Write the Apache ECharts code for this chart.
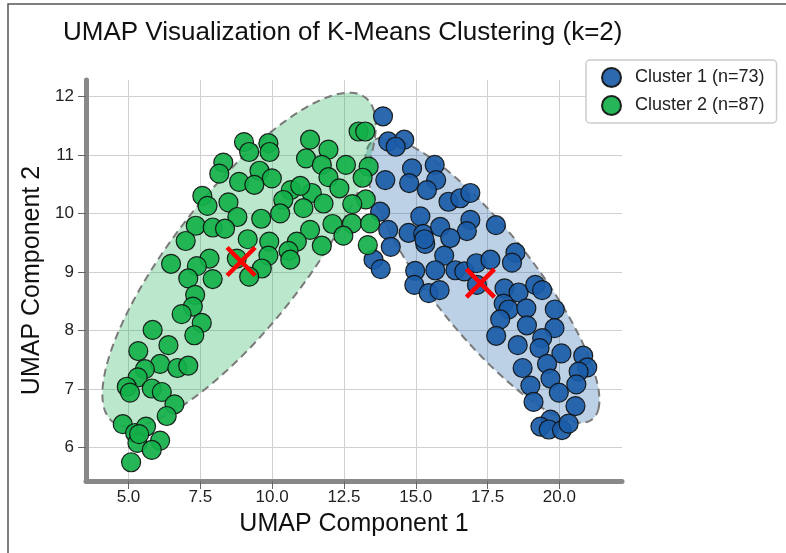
<!DOCTYPE html>
<html>
<head>
<meta charset="utf-8">
<script src="https://cdn.jsdelivr.net/npm/echarts@6/dist/echarts.min.js"></script>
<style>
  html, body { margin: 0; padding: 0; background: #fff; }
  #chart { width: 786px; height: 553px; }
</style>
</head>
<body>
<div id="chart"></div>
<script>
// UMAP embedding, cluster 1 (73 samples)
const cluster1X = [13.86,14.04,14.60,14.30,14.87,15.66,15.71,14.77,15.39,13.94,16.14,16.55,16.90,13.76,15.16,16.90,16.78,17.79,14.04,14.75,15.26,15.85,16.20,15.33,14.13,15.99,13.53,13.78,14.98,15.68,16.38,16.69,17.11,17.60,18.47,18.35,14.95,15.45,15.83,17.13,18.09,18.58,19.16,19.40,19.84,18.06,18.23,17.94,18.85,17.80,18.87,19.83,19.40,19.31,18.55,20.07,20.83,20.97,20.67,19.57,18.72,19.69,20.59,18.99,19.98,19.10,20.56,19.69,19.34,19.63,20.09,20.32,15.30];
const cluster1Y = [11.66,11.23,11.26,11.14,10.77,10.83,10.57,10.52,10.40,10.57,10.20,10.26,10.35,10.03,9.95,9.89,9.70,9.80,9.72,9.67,9.65,9.77,9.58,9.48,9.43,9.28,9.21,9.05,9.02,9.03,9.03,9.01,9.15,9.21,9.33,9.16,8.78,8.64,8.69,8.78,8.72,8.65,8.78,8.69,8.36,8.46,8.36,8.19,8.38,7.91,8.09,8.04,7.87,7.70,7.75,7.61,7.57,7.37,7.30,7.43,7.36,7.18,7.08,7.06,6.94,6.78,6.71,6.48,6.36,6.31,6.30,6.41,9.56];

// UMAP embedding, cluster 2 (87 samples)
const cluster2X = [9.02,9.20,9.87,9.91,8.30,8.16,9.56,9.99,8.85,9.38,7.57,7.75,8.48,8.79,9.62,7.34,7.93,8.36,6.99,9.15,9.90,9.87,7.82,6.48,7.38,8.77,9.64,9.20,7.08,7.93,
  11.32,11.96,11.18,11.73,11.96,12.57,12.34,13.01,13.24,13.36,13.15,10.65,10.39,11.38,11.09,11.79,10.28,13.26,12.10,12.78,13.41,11.32,12.48,10.86,11.73,13.33,10.57,10.63,
  7.32,7.24,6.85,7.55,7.29,5.84,6.39,5.34,6.10,5.57,6.70,7.08,5.32,4.94,5.05,5.81,6.16,6.60,6.33,4.80,5.23,5.61,6.10,5.31,5.81,5.09,5.37,10.98,12.79];
const cluster2Y = [11.22,11.05,11.20,11.05,10.87,10.68,10.73,10.60,10.54,10.49,10.30,10.13,10.19,9.94,9.91,9.79,9.76,9.74,9.53,9.56,9.52,9.28,9.23,9.14,9.10,9.23,9.06,8.92,8.89,8.88,
  11.26,11.09,10.94,10.83,10.62,10.83,10.43,11.40,11.40,10.80,10.61,10.40,10.23,10.35,10.09,10.17,10.00,10.24,9.82,9.83,9.83,9.72,9.62,9.52,9.45,9.46,9.36,9.21,
  8.61,8.41,8.28,8.13,7.92,8.01,7.75,7.65,7.43,7.34,7.36,7.40,7.20,7.04,6.94,7.01,6.95,6.74,6.54,6.40,6.25,6.36,6.12,6.08,5.96,5.75,6.23,10.47,10.16];

// K-means centroids (cluster 1, cluster 2)
const centroidX = [17.25, 8.92];
const centroidY = [8.81, 9.18];

// Spread ellipses per cluster: center, semi-axes and rotation (degrees, data space)
const ellipseCX = [17.32, 8.85];
const ellipseCY = [8.86, 9.21];
const ellipseRX = [4.60, 5.34];
const ellipseRY = [1.17, 1.51];
const ellipseAngle = [-28.7, 28.2];

const seriesNames = ['Cluster 1 (n=73)', 'Cluster 2 (n=87)'];
const xTicks = [5.0, 7.5, 10.0, 12.5, 15.0, 17.5, 20.0];
const yTicks = [6, 7, 8, 9, 10, 11, 12];

const pointColors = ['#1a5ca8', '#14b04a'];
const ellipseFills = ['rgba(33,102,172,0.30)', 'rgba(30,180,85,0.30)'];
const FONT = 'Liberation Sans, Arial, sans-serif';

const pairs = (xs, ys) => xs.map((x, i) => [x, ys[i]]);
const ellipseData = ellipseCX.map((cx, i) => [cx, ellipseCY[i], ellipseRX[i], ellipseRY[i], ellipseAngle[i]]);

const chart = echarts.init(document.getElementById('chart'), null, { renderer: 'canvas' });

const axisCommon = {
  type: 'value',
  axisLine: { show: true, onZero: false, lineStyle: { color: '#888888', width: 5 } },
  axisTick: { show: true, length: 8, lineStyle: { color: '#666666', width: 1 } },
  splitLine: { show: true, lineStyle: { color: '#d0d0d0', width: 1 } },
  axisLabel: { color: '#222', fontSize: 17, fontFamily: FONT },
  nameLocation: 'middle',
  nameTextStyle: { color: '#111', fontSize: 25, fontFamily: FONT }
};

chart.setOption({
  animation: false,
  backgroundColor: '#ffffff',
  title: {
    text: 'UMAP Visualization of K-Means Clustering (k=2)',
    left: 58, top: 15,
    textStyle: { color: '#111', fontSize: 26, fontWeight: 'normal', fontFamily: FONT }
  },
  legend: {
    data: seriesNames,
    orient: 'vertical',
    left: 586, top: 60,
    icon: 'circle',
    itemWidth: 19, itemHeight: 19, itemGap: 7,
    padding: [7, 12, 7, 15],
    backgroundColor: '#ffffff',
    borderColor: '#cccccc', borderWidth: 1.5, borderRadius: 4,
    textStyle: { color: '#222', fontSize: 18, fontFamily: FONT, padding: [0, 0, 0, 9] }
  },
  grid: { left: 86, right: 164, top: 80, bottom: 72 },
  xAxis: Object.assign({}, axisCommon, {
    min: 3.52, max: 22.18,
    name: 'UMAP Component 1', nameGap: 31,
    axisTick: Object.assign({}, axisCommon.axisTick, { customValues: xTicks }),
    axisLabel: Object.assign({}, axisCommon.axisLabel, {
      customValues: xTicks, margin: 8,
      formatter: v => Number(v).toFixed(1)
    })
  }),
  yAxis: Object.assign({}, axisCommon, {
    min: 5.43, max: 12.28,
    name: 'UMAP Component 2', nameGap: 30,
    axisTick: Object.assign({}, axisCommon.axisTick, { customValues: yTicks }),
    axisLabel: Object.assign({}, axisCommon.axisLabel, {
      customValues: yTicks, margin: 12,
      formatter: v => String(Math.round(v))
    })
  }),
  graphic: [{
    type: 'polyline', silent: true, z: 100,
    shape: { points: [[8, 560], [8, 4], [800, 4]] },
    style: { stroke: '#555555', lineWidth: 1.5, fill: 'none' }
  }],
  series: [
    {
      type: 'custom', name: 'ellipses', z: 1, silent: true,
      data: ellipseData,
      encode: { x: 0, y: 1 },
      renderItem: (params, api) => {
        const i = params.dataIndex;
        const cx = api.value(0), cy = api.value(1), rx = api.value(2), ry = api.value(3);
        const a = api.value(4) * Math.PI / 180;
        const pts = [];
        for (let k = 0; k <= 180; k++) {
          const t = k / 180 * Math.PI * 2;
          const ex = rx * Math.cos(t), ey = ry * Math.sin(t);
          pts.push(api.coord([cx + ex * Math.cos(a) - ey * Math.sin(a), cy + ex * Math.sin(a) + ey * Math.cos(a)]));
        }
        return {
          type: 'polygon',
          shape: { points: pts },
          style: { fill: ellipseFills[i], stroke: '#7a7a7a', lineWidth: 2, lineDash: [8, 5] }
        };
      }
    },
    {
      type: 'scatter', name: seriesNames[0], z: 3,
      data: pairs(cluster1X, cluster1Y),
      symbolSize: 19,
      itemStyle: { color: pointColors[0], borderColor: '#111', borderWidth: 1.2, opacity: 0.92 }
    },
    {
      type: 'scatter', name: seriesNames[1], z: 3,
      data: pairs(cluster2X, cluster2Y),
      symbolSize: 19,
      itemStyle: { color: pointColors[1], borderColor: '#111', borderWidth: 1.2, opacity: 0.92 }
    },
    {
      type: 'custom', name: 'centroids', z: 5, silent: true,
      data: pairs(centroidX, centroidY),
      encode: { x: 0, y: 1 },
      renderItem: (params, api) => {
        const p = api.coord([api.value(0), api.value(1)]);
        const s = 14;
        const st = { stroke: '#ff0000', lineWidth: 4.5 };
        return {
          type: 'group',
          children: [
            { type: 'line', shape: { x1: p[0] - s, y1: p[1] - s, x2: p[0] + s, y2: p[1] + s }, style: st },
            { type: 'line', shape: { x1: p[0] - s, y1: p[1] + s, x2: p[0] + s, y2: p[1] - s }, style: st }
          ]
        };
      }
    }
  ]
});
</script>
</body>
</html>
